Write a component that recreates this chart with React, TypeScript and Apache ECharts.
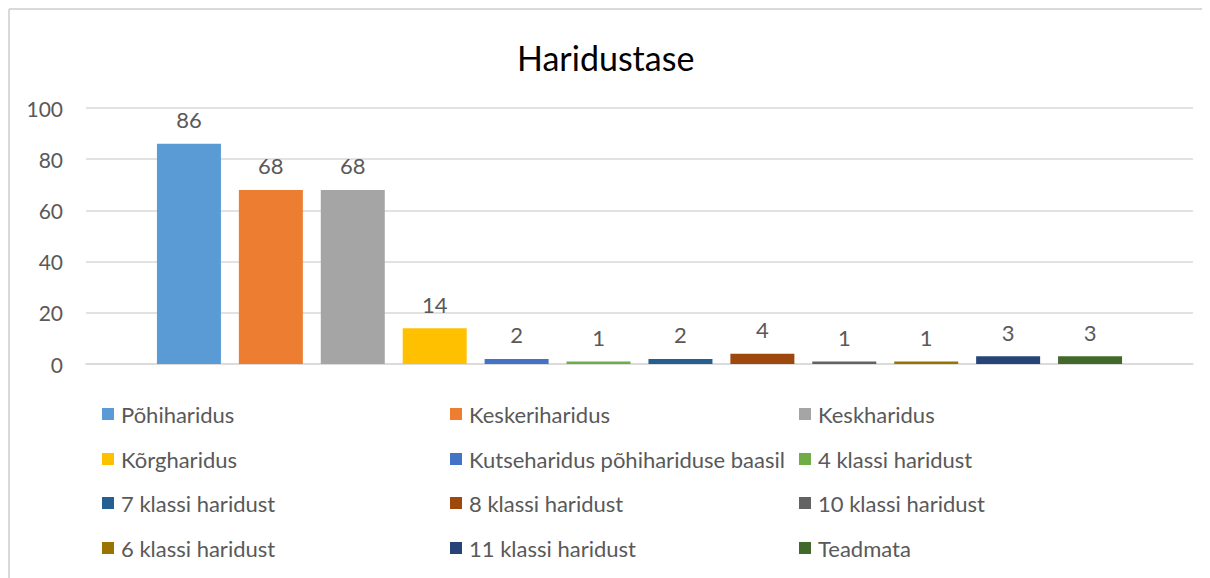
import React, { useEffect, useRef } from "react";
import * as echarts from "echarts";

const title = "Haridustase";
const seriesNames = [
  "Põhiharidus",
  "Keskeriharidus",
  "Keskharidus",
  "Kõrgharidus",
  "Kutseharidus põhihariduse baasil",
  "4 klassi haridust",
  "7 klassi haridust",
  "8 klassi haridust",
  "10 klassi haridust",
  "6 klassi haridust",
  "11 klassi haridust",
  "Teadmata",
];
const seriesValues = [86, 68, 68, 14, 2, 1, 2, 4, 1, 1, 3, 3];
const seriesColors = [
  "#5B9BD5",
  "#ED7D31",
  "#A5A5A5",
  "#FFC000",
  "#4472C4",
  "#70AD47",
  "#255E91",
  "#9E480E",
  "#636363",
  "#997300",
  "#264478",
  "#43682B",
];
const yTicks = { min: 0, max: 100, interval: 20 };

const FONT = "Lato";
const FS = 22;
const LEGEND_COL_X = [94, 442, 791];
const LEGEND_ROW_Y = [395, 440, 484, 529];

export default function App() {
  const ref = useRef<HTMLDivElement>(null);
  useEffect(() => {
    if (!ref.current) return;
    document.body.style.overflow = "hidden";
    const chart = echarts.init(ref.current, null, { renderer: "svg" });
    const legends = seriesNames.map((name, i) => ({
      left: LEGEND_COL_X[i % 3],
      top: LEGEND_ROW_Y[Math.floor(i / 3)],
      padding: 0,
      itemWidth: 12,
      itemHeight: 12,
      icon: "rect",
      data: [name],
      textStyle: {
        fontFamily: FONT,
        fontSize: FS,
        color: "#595959",
        padding: [0, 0, 0, 2],
      },
      selectedMode: false,
    }));
    chart.setOption({
      animation: false,
      backgroundColor: "#ffffff",
      title: {
        text: title,
        left: 504,
        top: 27,
        textStyle: { fontFamily: FONT, fontSize: 34, fontWeight: "normal", color: "#000000" },
      },
      graphic: [
        {
          type: "line",
          shape: { x1: 1, y1: 1, x2: 1300, y2: 1 },
          style: { stroke: "#d9d9d9", lineWidth: 2 },
          silent: true,
        },
        {
          type: "line",
          shape: { x1: 1, y1: 1, x2: 1, y2: 700 },
          style: { stroke: "#d9d9d9", lineWidth: 2 },
          silent: true,
        },
      ],
      legend: legends,
      grid: { left: 78, right: 17, top: 100, height: 256 },
      xAxis: {
        type: "category",
        data: [""],
        axisLine: { show: true, lineStyle: { color: "#d9d9d9", width: 1.5 } },
        axisTick: { show: false },
        axisLabel: { show: false },
      },
      yAxis: {
        type: "value",
        min: yTicks.min,
        max: yTicks.max,
        interval: yTicks.interval,
        axisLine: { show: false },
        axisTick: { show: false },
        splitLine: { lineStyle: { color: "#d9d9d9", width: 1.5 } },
        axisLabel: { fontFamily: FONT, fontSize: 21, color: "#595959", margin: 23 },
      },
      series: seriesNames.map((name, i) => ({
        type: "bar",
        name,
        data: [seriesValues[i]],
        barWidth: 64,
        barGap: "28%",
        itemStyle: { color: seriesColors[i] },
        label: {
          show: true,
          position: "top",
          distance: 13,
          fontFamily: FONT,
          fontSize: FS,
          color: "#595959",
        },
      })),
    });
    return () => chart.dispose();
  }, []);
  return <div ref={ref} style={{ width: 1202, height: 580 }} />;
}
